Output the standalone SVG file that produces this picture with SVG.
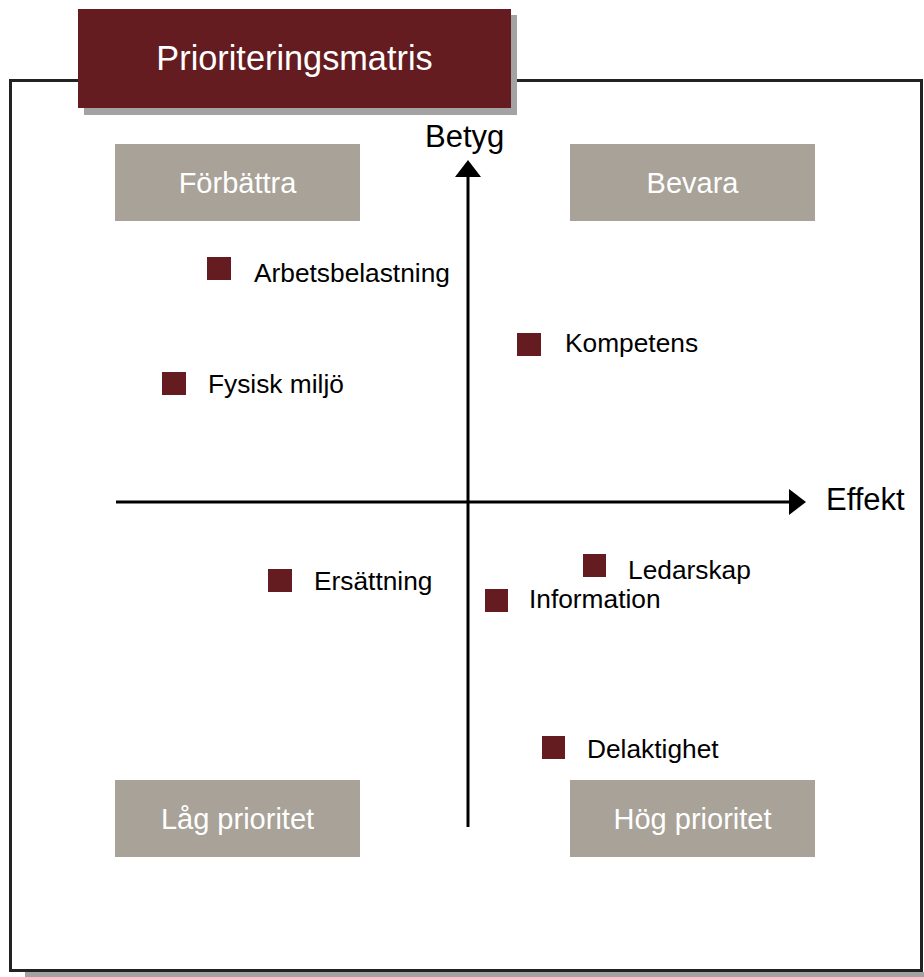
<svg xmlns="http://www.w3.org/2000/svg" width="924" height="977" viewBox="0 0 924 977">
  <style>
    .shadow { fill: #a3a3a3; }
    .quad { fill: #a8a298; }
    .quadtxt { font-family: "Liberation Sans", Arial, sans-serif; font-size: 29px; fill: #ffffff; text-anchor: middle; }
    .marker { fill: #641c20; }
    .lbl { font-family: "Liberation Sans", Arial, sans-serif; font-size: 26.3px; fill: #000000; }
    .axislbl { font-family: "Liberation Sans", Arial, sans-serif; font-size: 31px; fill: #000000; }
    .axis { stroke: #000000; stroke-width: 3; fill: none; }
  </style>
  <rect width="924" height="977" fill="#ffffff"/>

  <g id="frame">
    <rect class="shadow" x="25" y="972" width="899" height="5"/>
    <rect x="10.5" y="80.5" width="911" height="890" fill="#ffffff" stroke="#222222" stroke-width="3"/>
  </g>

  <g id="title">
    <rect class="shadow" x="84" y="15" width="433" height="100"/>
    <rect x="78" y="9" width="433" height="99" fill="#641c20"/>
    <text x="294.5" y="70" font-family="Liberation Sans, Arial, sans-serif" font-size="34.3" fill="#ffffff" text-anchor="middle">Prioriteringsmatris</text>
  </g>

  <g id="connectors">
    <line class="axis" x1="468" y1="176" x2="468" y2="827"/>
    <polygon points="468,160 481,177 455,177" fill="#000000"/>
    <line class="axis" x1="116" y1="502" x2="790" y2="502"/>
    <polygon points="806,502 789,489 789,515" fill="#000000"/>
  </g>

  <g id="axis-y-label">
    <text class="axislbl" x="425" y="147">Betyg</text>
  </g>
  <g id="axis-x-label">
    <text class="axislbl" x="826" y="510">Effekt</text>
  </g>

  <g id="q-forbattra">
    <rect class="quad" x="115" y="144" width="245" height="77"/>
    <text class="quadtxt" x="237.5" y="193">Förbättra</text>
  </g>
  <g id="q-bevara">
    <rect class="quad" x="570" y="144" width="245" height="77"/>
    <text class="quadtxt" x="692.5" y="193">Bevara</text>
  </g>
  <g id="q-lag">
    <rect class="quad" x="115" y="780" width="245" height="77"/>
    <text class="quadtxt" x="237.5" y="829">Låg prioritet</text>
  </g>
  <g id="q-hog">
    <rect class="quad" x="570" y="780" width="245" height="77"/>
    <text class="quadtxt" x="692.5" y="829">Hög prioritet</text>
  </g>

  <g id="p-arbetsbelastning">
    <rect class="marker" x="207" y="257" width="24" height="23"/>
    <text class="lbl" x="254" y="282">Arbetsbelastning</text>
  </g>
  <g id="p-kompetens">
    <rect class="marker" x="517" y="333" width="24" height="23"/>
    <text class="lbl" x="565" y="352">Kompetens</text>
  </g>
  <g id="p-fysisk">
    <rect class="marker" x="162" y="372" width="24" height="23"/>
    <text class="lbl" x="208" y="393">Fysisk miljö</text>
  </g>
  <g id="p-ersattning">
    <rect class="marker" x="268" y="569" width="24" height="23"/>
    <text class="lbl" x="314" y="590">Ersättning</text>
  </g>
  <g id="p-ledarskap">
    <rect class="marker" x="583" y="554" width="23" height="23"/>
    <text class="lbl" x="628" y="579">Ledarskap</text>
  </g>
  <g id="p-information">
    <rect class="marker" x="485" y="589" width="23" height="23"/>
    <text class="lbl" x="529" y="608">Information</text>
  </g>
  <g id="p-delaktighet">
    <rect class="marker" x="542" y="736" width="23" height="23"/>
    <text class="lbl" x="587" y="758">Delaktighet</text>
  </g>
</svg>
